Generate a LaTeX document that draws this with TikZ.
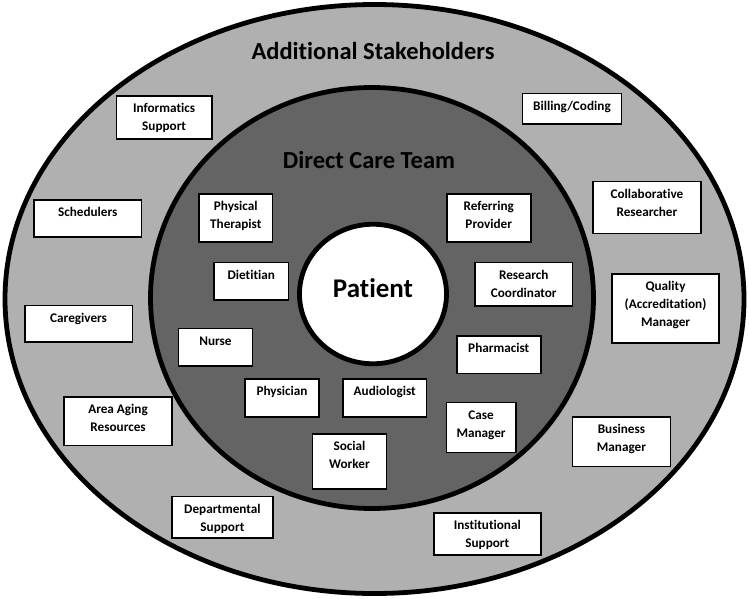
\documentclass[tikz,border=0pt]{standalone}
\usepackage{fontspec}
\setmainfont{Carlito}[Ligatures=NoCommon]
\usetikzlibrary{shapes.geometric}
\definecolor{ringlight}{HTML}{B0B0B0}
\definecolor{ringdark}{HTML}{646464}
\tikzset{
  ring/.style={shape=ellipse, draw=black, line width=4.8pt, inner sep=0pt},
  sbox/.style={draw=black, fill=white, line width=1.5pt, inner sep=0pt, anchor=north west},
  lbl/.style={font=\bfseries\fontsize{13.2}{18}\selectfont, align=center, inner sep=0pt, anchor=base, text=black},
  title/.style={font=\bfseries\fontsize{24.5}{28}\selectfont, inner sep=0pt, anchor=base},
}
% optional #1 = number of lines; base anchor of a multi-line node is its last baseline
\newcommand\stakebox[6][1]{%
  \node[sbox, minimum width={#5-#3}, minimum height={#6-#4}] (#2) at (#3,#4) {};
}
\newcommand\stakelabel[3][1]{%
  \node[lbl] (#2-text) at ([yshift={-17.5-18*(#1-1)}]#2.north) {#3};
}
\begin{document}
\begin{tikzpicture}[x=1pt, y=-1pt]
\useasboundingbox (0,0) rectangle (749,598);
\node[ring, fill=ringlight, minimum width=739, minimum height=589] (outer) at (374.5,299) {};
\node[ring, fill=ringdark, minimum width=443, minimum height=421] (middle) at (372,298) {};
\node[ring, fill=white, minimum width=147, minimum height=139.5] (patient) at (373,294) {};
\node[title] (addtitle) at (373,59) {Additional Stakeholders};
\node[title] (dcttitle) at (369,168.3) {Direct Care Team};
\node[title, font=\bfseries\fontsize{27}{30}\selectfont] (patienttext) at (373,297.7) {Patient};
% outer ring
\stakebox{infsup}{115.7}{95}{211}{138.3}
\stakelabel[2]{infsup}{Informatics\\Support}
\stakebox{sched}{33.3}{199.3}{140.7}{236}
\stakelabel{sched}{Schedulers}
\stakebox{billing}{521.7}{92.7}{620.7}{123.3}
\stakelabel{billing}{Billing/Coding}
\stakebox{collab}{592.3}{180.7}{700}{232.7}
\stakelabel[2]{collab}{Collaborative\\Researcher}
\stakebox{quality}{611.3}{273.3}{718.3}{342}
\stakelabel[3]{quality}{Quality\\(Accreditation)\\Manager}
\stakebox{caregivers}{24}{304.7}{131.7}{341.3}
\stakelabel{caregivers}{Caregivers}
\stakebox{aging}{63.3}{396.3}{171.3}{444.7}
\stakelabel[2]{aging}{Area Aging\\Resources}
\stakebox{dept}{171}{495.7}{272.3}{537.3}
\stakelabel[2]{dept}{Departmental\\Support}
\stakebox{inst}{433}{512.3}{540}{554}
\stakelabel[2]{inst}{Institutional\\Support}
\stakebox{business}{571.7}{416.3}{669.7}{465.7}
\stakelabel[2]{business}{Business\\Manager}
% direct care team
\stakebox{phystherapist}{198.3}{193.3}{271.7}{241}
\stakelabel[2]{phystherapist}{Physical\\Therapist}
\stakebox{referring}{446}{193.3}{530}{241}
\stakelabel[2]{referring}{Referring\\Provider}
\stakebox{dietitian}{213.3}{261.7}{287.7}{299.3}
\stakelabel{dietitian}{Dietitian}
\stakebox{research}{474.3}{261.7}{571.7}{305}
\stakelabel[2]{research}{Research\\Coordinator}
\stakebox{nurse}{177.7}{327.7}{251.7}{365}
\stakelabel{nurse}{Nurse}
\stakebox{pharmacist}{456}{335}{540}{372.7}
\stakelabel{pharmacist}{Pharmacist}
\stakebox{physician}{244.3}{378.3}{318.3}{416}
\stakelabel{physician}{Physician}
\stakebox{audiologist}{342.3}{378.3}{425.7}{416}
\stakelabel{audiologist}{Audiologist}
\stakebox{casemgr}{445.7}{401.7}{515}{451.7}
\stakelabel[2]{casemgr}{Case\\Manager}
\stakebox{social}{311.7}{433.3}{385.7}{488.3}
\stakelabel[2]{social}{Social\\Worker}
\end{tikzpicture}
\end{document}
